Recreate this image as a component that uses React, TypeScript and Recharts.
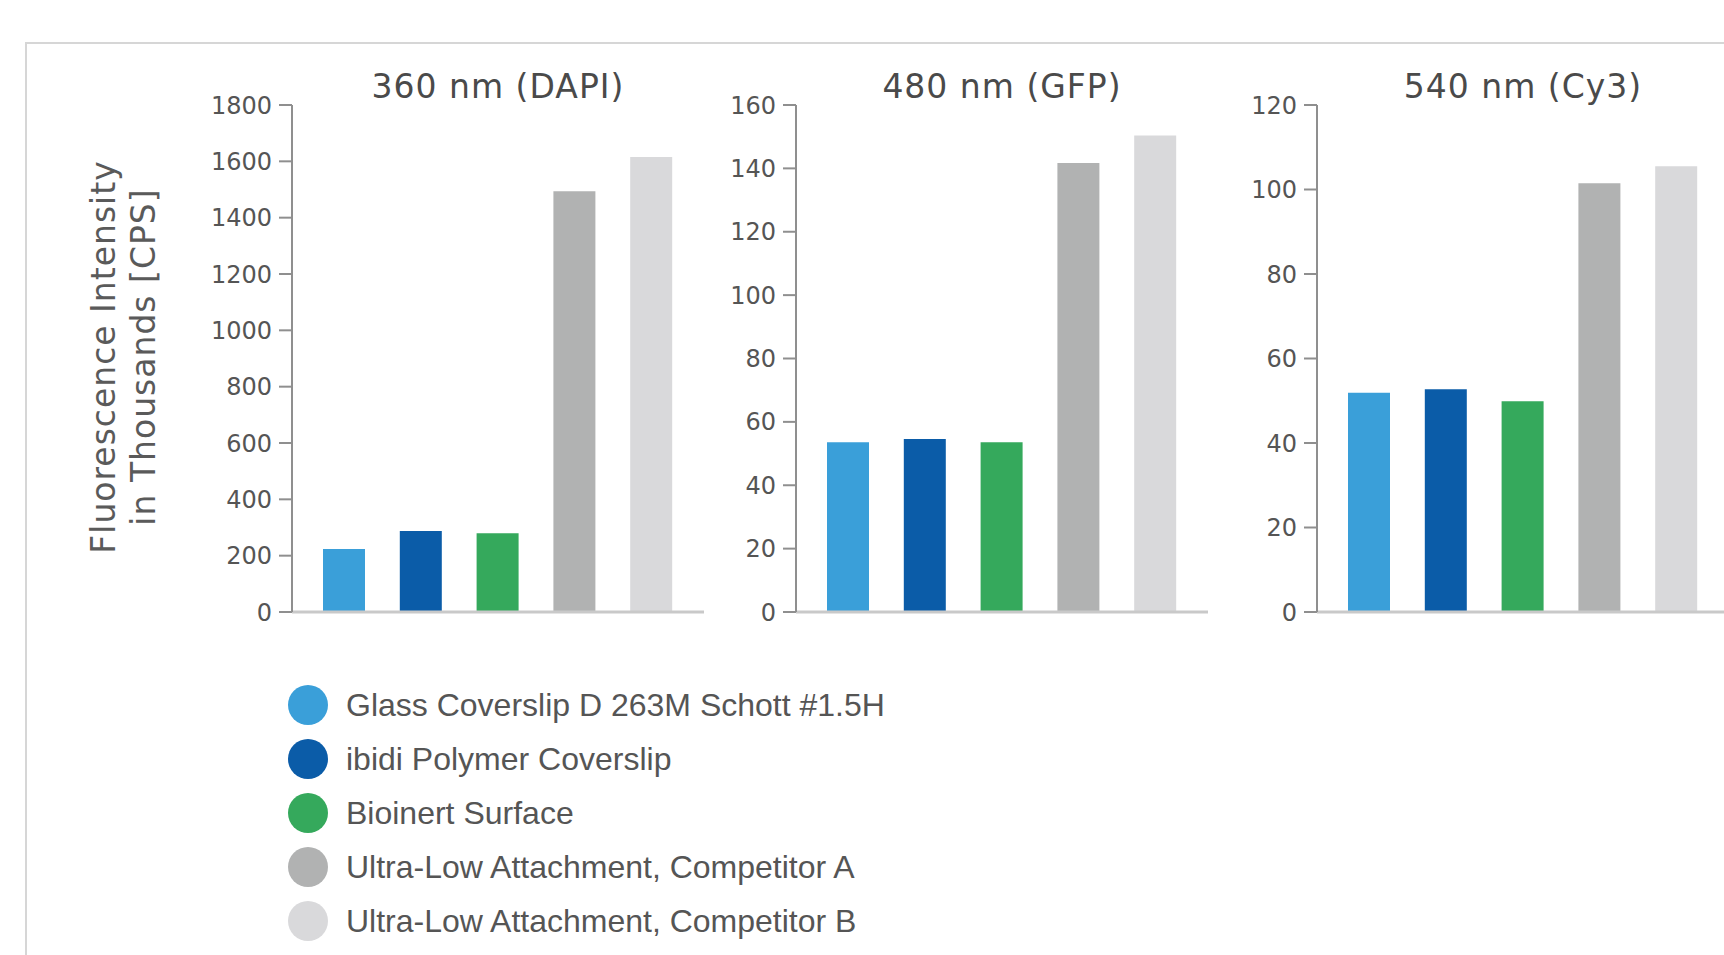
import { BarChart, Bar, XAxis, YAxis, Cell } from 'recharts';

const SURFACES = [
  'Glass Coverslip D 263M Schott #1.5H',
  'ibidi Polymer Coverslip',
  'Bioinert Surface',
  'Ultra-Low Attachment, Competitor A',
  'Ultra-Low Attachment, Competitor B',
];
const SURFACE_COLORS = ['#3a9fd9', '#0b5ca8', '#35a95c', '#b1b2b2', '#d9d9db'];

const PANEL_TITLES = ['360 nm (DAPI)', '480 nm (GFP)', '540 nm (Cy3)'];

const DAPI_VALUES = [224, 288, 280, 1494, 1615];
const GFP_VALUES = [53.6, 54.6, 53.6, 141.7, 150.4];
const CY3_VALUES = [51.9, 52.7, 49.9, 101.5, 105.5];

const DAPI_TICKS = [0, 200, 400, 600, 800, 1000, 1200, 1400, 1600, 1800];
const GFP_TICKS = [0, 20, 40, 60, 80, 100, 120, 140, 160];
const CY3_TICKS = [0, 20, 40, 60, 80, 100, 120];

const Y_LABEL = ['Fluorescence Intensity', 'in Thousands [CPS]'];

const AXIS_W = 110;
const PLOT_W = 412;

interface PanelProps {
  title: string;
  values: number[];
  ticks: number[];
  left: number;
}

function Panel({ title, values, ticks, left }: PanelProps) {
  const data = SURFACES.map((name, i) => ({ name, value: values[i] }));
  return (
    <div style={{ position: 'absolute', left, top: 0, width: AXIS_W + PLOT_W, height: 640 }}>
      <div
        style={{
          position: 'absolute',
          left: AXIS_W,
          width: PLOT_W,
          top: 65,
          textAlign: 'center',
          fontFamily: 'DejaVu Sans',
          fontSize: 33,
          letterSpacing: 1,
          lineHeight: '44px',
          color: '#4a4a4a',
        }}
      >
        {title}
      </div>
      <BarChart
        width={AXIS_W + PLOT_W}
        height={640}
        data={data}
        margin={{ top: 105, right: 0, bottom: 27, left: 0 }}
      >
        <XAxis
          dataKey="name"
          tick={false}
          tickLine={false}
          height={1}
          axisLine={{ stroke: '#c9c9c9', strokeWidth: 3 }}
          padding={{ left: 14, right: 14 }}
        />
        <YAxis
          width={AXIS_W}
          domain={[0, ticks[ticks.length - 1]]}
          ticks={ticks}
          interval={0}
          tickSize={13}
          tickMargin={7}
          axisLine={{ stroke: '#8f8f8f', strokeWidth: 2 }}
          tickLine={{ stroke: '#8f8f8f', strokeWidth: 2 }}
          tick={{ fontSize: 24, fill: '#555', fontFamily: 'DejaVu Sans' }}
        />
        <Bar dataKey="value" barSize={42} isAnimationActive={false}>
          {data.map((d, i) => (
            <Cell key={d.name} fill={SURFACE_COLORS[i]} />
          ))}
        </Bar>
      </BarChart>
    </div>
  );
}

export default function App() {
  return (
    <div
      style={{
        position: 'absolute',
        left: 0,
        top: 0,
        width: 1724,
        height: 955,
        overflow: 'hidden',
        background: '#fff',
      }}
    >
      {/* frame */}
      <div
        style={{
          position: 'absolute',
          left: 25,
          top: 42,
          width: 1800,
          height: 1000,
          borderTop: '2px solid #d6d6d6',
          borderLeft: '2px solid #d6d6d6',
        }}
      />

      {/* shared y-axis label */}
      <div
        style={{
          position: 'absolute',
          left: 124 - 250,
          top: 357 - 40,
          width: 500,
          height: 80,
          transform: 'rotate(-90deg)',
          transformOrigin: 'center',
          textAlign: 'center',
          fontFamily: 'DejaVu Sans',
          fontSize: 33,
          letterSpacing: 1,
          lineHeight: '40px',
          color: '#5a5a5a',
        }}
      >
        <div>{Y_LABEL[0]}</div>
        <div>{Y_LABEL[1]}</div>
      </div>

      <Panel title={PANEL_TITLES[0]} values={DAPI_VALUES} ticks={DAPI_TICKS} left={292 - AXIS_W} />
      <Panel title={PANEL_TITLES[1]} values={GFP_VALUES} ticks={GFP_TICKS} left={796 - AXIS_W} />
      <Panel title={PANEL_TITLES[2]} values={CY3_VALUES} ticks={CY3_TICKS} left={1317 - AXIS_W} />

      {/* legend */}
      <div style={{ position: 'absolute', left: 288, top: 678 }}>
        {SURFACES.map((name, i) => (
          <div key={name} style={{ display: 'flex', alignItems: 'center', height: 54 }}>
            <div
              style={{
                width: 40,
                height: 40,
                borderRadius: '50%',
                background: SURFACE_COLORS[i],
                marginRight: 18,
              }}
            />
            <span
              style={{
                fontFamily: '"Liberation Sans", Arial, sans-serif',
                fontSize: 32,
                color: '#555',
                whiteSpace: 'nowrap',
              }}
            >
              {name}
            </span>
          </div>
        ))}
      </div>
    </div>
  );
}
